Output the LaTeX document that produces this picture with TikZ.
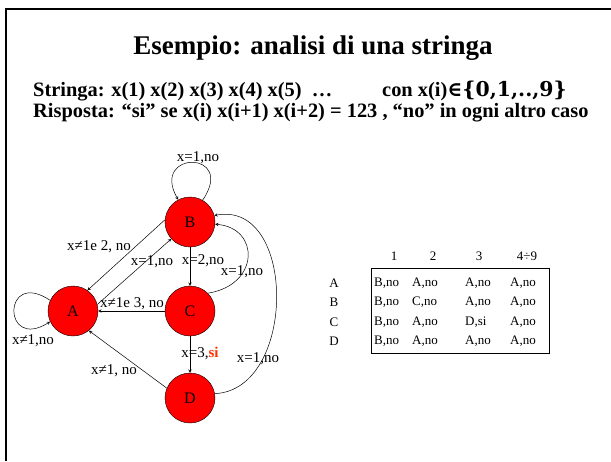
\documentclass[tikz,border=0pt]{standalone}
\usepackage{fontspec}
\setmainfont{Liberation Serif}
\newfontfamily\symfont{DejaVu Serif}
\usetikzlibrary{arrows,positioning,calc}
\definecolor{rossosi}{RGB}{255,51,0}

\tikzset{
  stato/.style={circle,draw,fill=red,minimum size=50pt,inner sep=0pt,font=\fontsize{16}{16}\selectfont},
  etich/.style={font=\fontsize{15}{15}\selectfont,inner sep=0pt},
  cella/.style={font=\fontsize{13}{13}\selectfont,inner sep=0pt},
  riga/.style={anchor=base west,inner sep=0pt,font=\bfseries\fontsize{20.4}{20.4}\selectfont},
  freccia/.style={->,>=stealth,line width=0.5pt}
}

\begin{document}
\begin{tikzpicture}[x=1pt,y=-1pt]
  \useasboundingbox (0,0) rectangle (611,461);
  % slide frame
  \draw[line width=2.5pt] (6,461) -- (6,9) -- (611,9);
  % title and text
  \node[anchor=base,inner sep=0pt,font=\bfseries\fontsize{27}{27}\selectfont] (titolo) at (313,54) {Esempio: analisi di una stringa};
  \node[riga] (stringa) at (33,96) {Stringa: x(1) x(2) x(3) x(4) x(5)\ \ …};
  \node[riga] (dominio) at (382,96) {con x(i){\symfont ∈\{0,1,..,9\}}};
  \node[riga] (risposta) at (33,117) {Risposta: “si” se x(i) x(i+1) x(i+2) = 123 , “no” in ogni altro caso};
  % states
  \node[stato] (B) at (190,222) {B};
  \node[stato] (A) at (73,311) {A};
  \node[stato] (C) at (190,311) {C};
  \node[stato] (D) at (190,398) {D};
  % self loops
  \draw[freccia] (B.60) .. controls (237,150) and (150,150) .. (B.118);
  \draw[freccia] (A.155) .. controls (2,268) and (2,352) .. (A.205);
  % transitions
  \draw[freccia] (B.175) -- (A.55);
  \draw[freccia] (A.15) -- (B.222);
  \draw[freccia] (B) -- (C);
  \draw[freccia] (C) -- (A);
  \draw[freccia] (C) -- (D);
  \draw[freccia] (D.157) -- (A.-51);
  \draw[freccia] (C.45) .. controls (260,285) and (260,228) .. (B.-5);
  \draw[freccia] (D.10) .. controls (297,390) and (297,200) .. (B.15);
  % labels
  \node[etich] (lBB) at (198,158) {x=1,no};
  \node[etich] (lAA) at (33,341) {x≠1,no};
  \node[etich] (lBA) at (99,247) {x≠1e 2, no};
  \node[etich] (lAB) at (152,262) {x=1,no};
  \node[etich] (lBC) at (203,261) {x=2,no};
  \node[etich] (lCB) at (242,272) {x=1,no};
  \node[etich] (lCA) at (132,304) {x≠1e 3, no};
  \node[etich] (lCD) at (200,353) {x=3,{\color{rossosi}\bfseries si}};
  \node[etich] (lDA) at (114,371) {x≠1, no};
  \node[etich] (lDB) at (258,359) {x=1,no};
  % transition table
  \draw[line width=0.6pt] (371,268) rectangle (549,353);
  \foreach \h/\x in {1/394, 2/433, 3/479, 4÷9/527}
    \node[cella] at (\x,256) {\h};
  \foreach \r/\y/\a/\b/\c/\d in {A/283/{B,no}/{A,no}/{A,no}/{A,no},
                                B/302/{B,no}/{C,no}/{A,no}/{A,no},
                                C/322/{B,no}/{A,no}/{D,si}/{A,no},
                                D/341/{B,no}/{A,no}/{A,no}/{A,no}}{
    \node[cella] (r\r) at (334,\y) {\r};
    \node[cella,anchor=west] at (374,\y) {\a};
    \node[cella,anchor=west] at (412,\y) {\b};
    \node[cella,anchor=west] at (465,\y) {\c};
    \node[cella,anchor=west] at (510,\y) {\d};
  }
\end{tikzpicture}
\end{document}
